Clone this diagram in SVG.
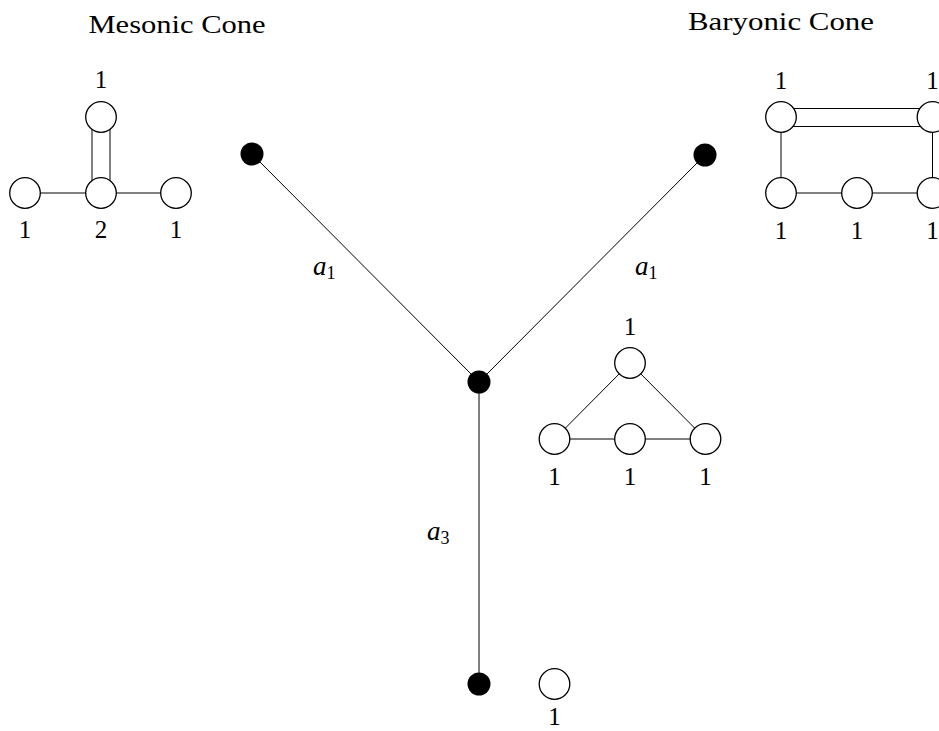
<svg xmlns="http://www.w3.org/2000/svg" width="939" height="731" viewBox="0 0 939 731">
<style>
.t{font-family:"Liberation Serif","DejaVu Serif",serif;font-size:25px;fill:#000;text-anchor:middle}
.ti{font-family:"Liberation Serif","DejaVu Serif",serif;font-size:26px;fill:#000;text-anchor:middle}
.m{font-family:"Liberation Serif","DejaVu Serif",serif;font-size:27px;font-style:italic;fill:#000}
.s{font-style:normal;font-size:18px}
.w{fill:#fff;stroke:#000;stroke-width:1.3}
.b{fill:#000;stroke:none}
.e{stroke:#000;stroke-width:1;fill:none}
</style>
<rect width="939" height="731" fill="#fff"/>
<g id="connectors">
<line class="e" x1="252" y1="154" x2="479" y2="382"/>
<line class="e" x1="705" y1="155" x2="479" y2="382"/>
<line class="e" x1="479" y1="382" x2="479" y2="684"/>
<line class="e" x1="25" y1="193" x2="176" y2="193"/>
<line class="e" x1="92" y1="117" x2="92" y2="193"/>
<line class="e" x1="110" y1="117" x2="110" y2="193"/>
<line class="e" x1="781" y1="108.5" x2="932.5" y2="108.5"/>
<line class="e" x1="781" y1="126.5" x2="932.5" y2="126.5"/>
<line class="e" x1="781" y1="117" x2="781" y2="193"/>
<line class="e" x1="932.5" y1="117" x2="932.5" y2="193"/>
<line class="e" x1="781" y1="193" x2="932.5" y2="193"/>
<line class="e" x1="630" y1="363" x2="554.5" y2="439"/>
<line class="e" x1="630" y1="363" x2="705.5" y2="439"/>
<line class="e" x1="554.5" y1="439" x2="705.5" y2="439"/>
</g>
<g id="title-mesonic"><text class="ti" x="177" y="33" textLength="177" lengthAdjust="spacingAndGlyphs">Mesonic Cone</text></g>
<g id="title-baryonic"><text class="ti" x="781" y="30" textLength="186" lengthAdjust="spacingAndGlyphs">Baryonic Cone</text></g>
<g id="dot-left"><circle class="b" cx="252" cy="154" r="11.5"/></g>
<g id="dot-right"><circle class="b" cx="705" cy="155" r="11.5"/></g>
<g id="dot-center"><circle class="b" cx="479" cy="382" r="11.5"/></g>
<g id="dot-bottom"><circle class="b" cx="479" cy="684" r="11.5"/></g>
<g id="label-a1-left"><text class="m" x="313" y="275">a<tspan class="s" dy="4">1</tspan></text></g>
<g id="label-a1-right"><text class="m" x="635" y="275">a<tspan class="s" dy="4">1</tspan></text></g>
<g id="label-a3"><text class="m" x="427" y="540">a<tspan class="s" dy="4">3</tspan></text></g>
<g id="mesonic">
<g id="m-left"><circle class="w" cx="25" cy="193" r="15.3"/><text class="t" x="25" y="238">1</text></g>
<g id="m-mid"><circle class="w" cx="101" cy="193" r="15.3"/><text class="t" x="101" y="238">2</text></g>
<g id="m-right"><circle class="w" cx="176" cy="193" r="15.3"/><text class="t" x="176" y="238">1</text></g>
<g id="m-top"><circle class="w" cx="101" cy="117" r="15.3"/><text class="t" x="101" y="88">1</text></g>
</g>
<g id="baryonic">
<g id="b-tl"><circle class="w" cx="781" cy="117" r="15.3"/><text class="t" x="781" y="89">1</text></g>
<g id="b-tr"><circle class="w" cx="932.5" cy="117" r="15.3"/><text class="t" x="932.5" y="89">1</text></g>
<g id="b-bl"><circle class="w" cx="781" cy="193" r="15.3"/><text class="t" x="781" y="239">1</text></g>
<g id="b-bm"><circle class="w" cx="857" cy="193" r="15.3"/><text class="t" x="857" y="239">1</text></g>
<g id="b-br"><circle class="w" cx="932.5" cy="193" r="15.3"/><text class="t" x="932.5" y="239">1</text></g>
</g>
<g id="triangle">
<g id="t-top"><circle class="w" cx="630" cy="363" r="15.3"/><text class="t" x="630" y="335">1</text></g>
<g id="t-l"><circle class="w" cx="554.5" cy="439" r="15.3"/><text class="t" x="554.5" y="485">1</text></g>
<g id="t-m"><circle class="w" cx="630" cy="439" r="15.3"/><text class="t" x="630" y="485">1</text></g>
<g id="t-r"><circle class="w" cx="705.5" cy="439" r="15.3"/><text class="t" x="705.5" y="485">1</text></g>
</g>
<g id="single"><circle class="w" cx="554.5" cy="684" r="15.3"/><text class="t" x="554.5" y="725">1</text></g>
</svg>
